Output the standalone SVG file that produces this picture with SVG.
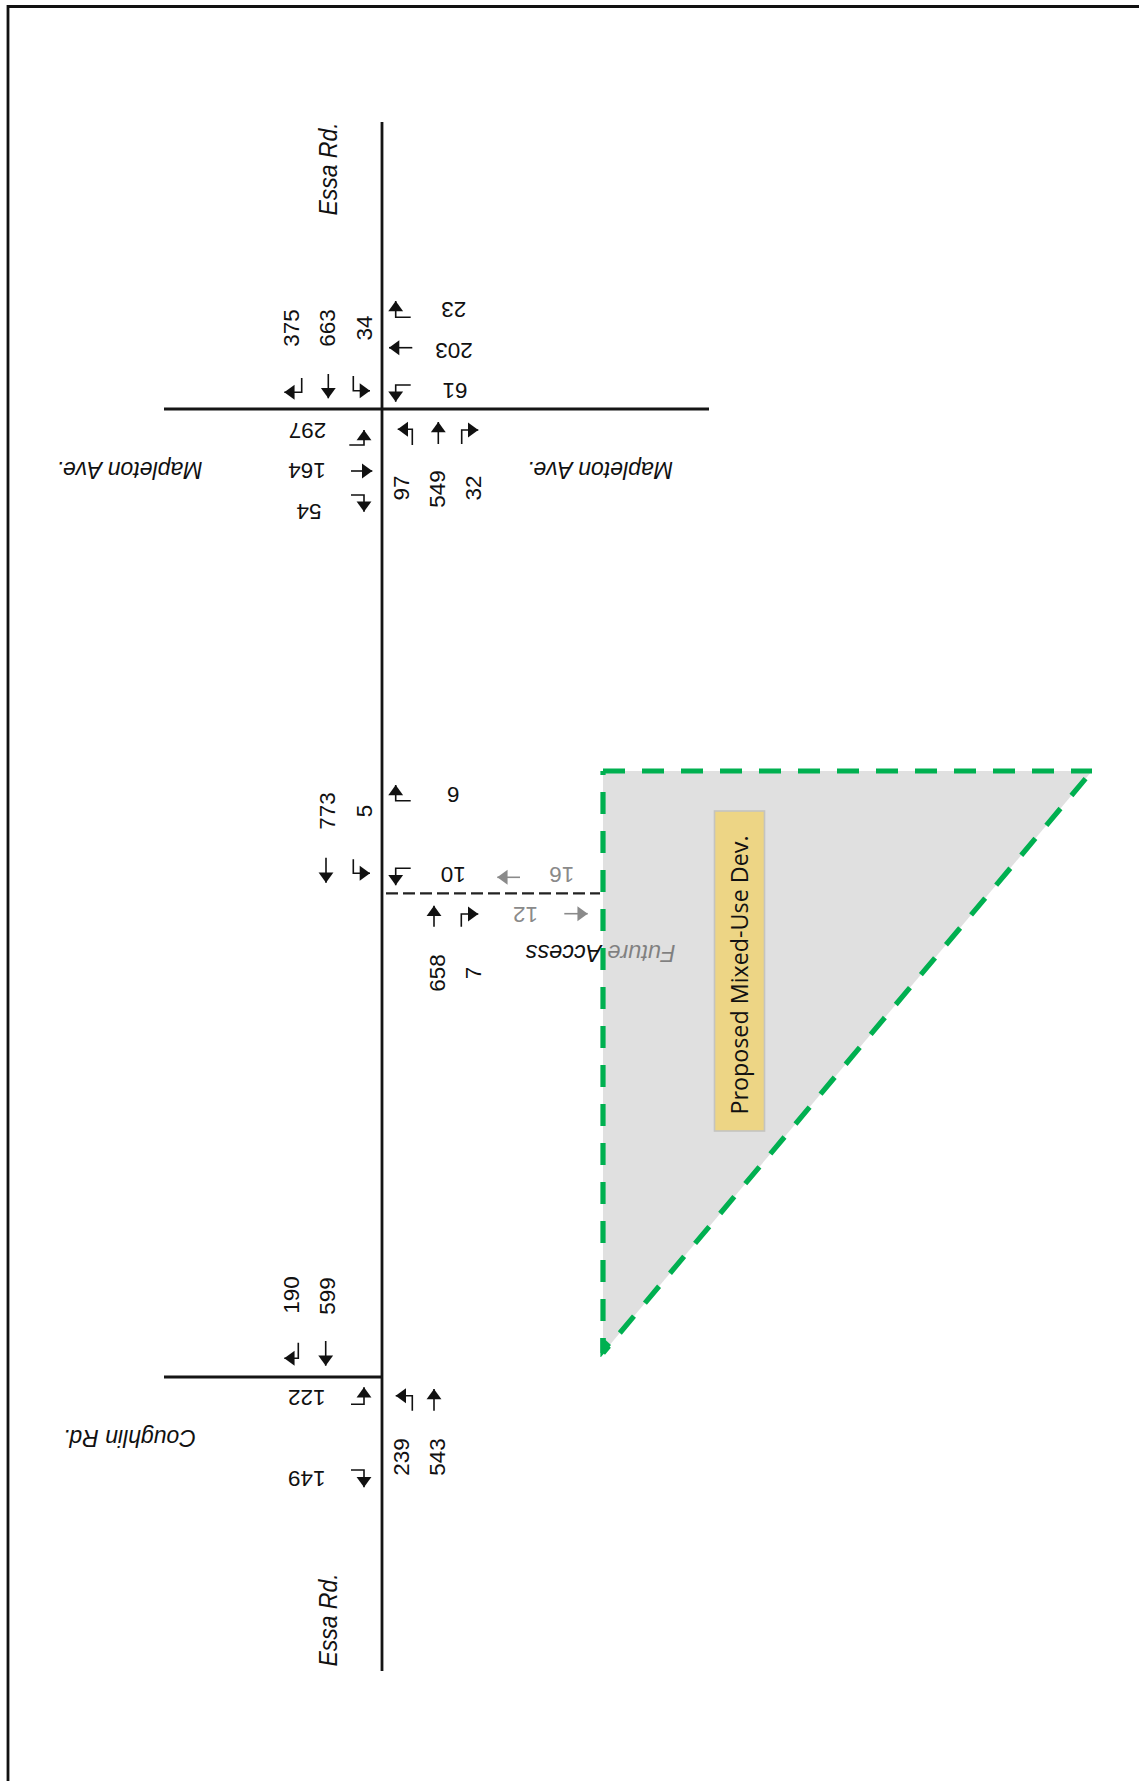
<svg xmlns="http://www.w3.org/2000/svg" width="1139" height="1781" viewBox="0 0 1139 1781">
<style>
text{font-family:"Liberation Sans",Arial,sans-serif;fill:#111;text-anchor:middle}
.n{font-size:22.5px}
.g{fill:#8a8a8a}
.l{font-size:23px;font-style:italic}
.f{font-size:23.6px;font-style:italic}
.e{font-size:25.8px;font-style:italic}
.t{font-family:"Open Sans","Noto Sans",sans-serif;font-size:23.3px;fill:#111}
.a{fill:none;stroke:#111;stroke-width:1.6;marker-end:url(#h)}
.ag{fill:none;stroke:#8a8a8a;stroke-width:1.6;marker-end:url(#hg)}
.r{fill:none;stroke:#151515;stroke-width:2.8}
.d{fill:none;stroke:#00b050;stroke-width:5.2;stroke-dasharray:22 17}
</style>
<defs>
<marker id="h" markerUnits="userSpaceOnUse" markerWidth="12" markerHeight="16" viewBox="0 0 9 14" refX="9" refY="7" orient="auto"><path d="M0,0.5 L9,7 L0,13.5 Z" fill="#111"/></marker>
<marker id="hg" markerUnits="userSpaceOnUse" markerWidth="12" markerHeight="16" viewBox="0 0 9 14" refX="9" refY="7" orient="auto"><path d="M0,0.5 L9,7 L0,13.5 Z" fill="#8a8a8a"/></marker>
</defs>
<rect width="1139" height="1781" fill="#fff"/>
<path id="frame" d="M8,1781 V6.5 H1139" fill="none" stroke="#111" stroke-width="2.8"/>

<g id="labels-roads">
<text class="e" transform="translate(337,169) rotate(-90) scale(0.89,1)">Essa Rd.</text>
<text class="e" transform="translate(337,1620) rotate(-90) scale(0.89,1)">Essa Rd.</text>
<text class="l" transform="translate(129.5,462) rotate(180)">Mapleton Ave.</text>
<text class="l" transform="translate(600,462) rotate(180)">Mapleton Ave.</text>
<text class="l" transform="translate(129.5,1430) rotate(180)">Coughlin Rd.</text>
<text class="f" transform="translate(600.5,945) rotate(180)">Future Access</text>
</g>

<g id="site">
<path d="M603,771 H1092 L603,1353 Z" fill="#cbcbcb" fill-opacity="0.6"/>
<path class="d" d="M603,771 H1092"/>
<path class="d" d="M1092,771 L603,1353" style="stroke-dashoffset:-10"/>
<path class="d" d="M603,1353 V771" style="stroke-dashoffset:7"/>
<path d="M600.4,1338 H605.6 V1340 L611,1345 L601,1357 L600.4,1357 Z" fill="#00b050"/>
</g>
<g id="site-label">
<rect x="714.5" y="811" width="50" height="320" fill="#edd585" stroke="#c4c4c0" stroke-width="1.6"/>
<text class="t" transform="translate(747.7,975) rotate(-90)">Proposed Mixed-Use Dev.</text>
</g>

<g id="connectors">
<path class="r" d="M382,122 V1671"/>
<path class="r" d="M164,409 H709"/>
<path class="r" d="M164,1377 H382"/>
<path d="M386,893.3 H600" fill="none" stroke="#222" stroke-width="2.2" stroke-dasharray="12 5"/>
</g>

<g id="intersection-mapleton">
<path class="a" d="M301.7,378 V392.3 H284.3"/>
<path class="a" d="M328.3,374 V398.3"/>
<path class="a" d="M353.3,376 V390.7 H370"/>
<path class="a" d="M410.7,385 H395.7 V401.7"/>
<path class="a" d="M412.3,347.7 H389"/>
<path class="a" d="M410.7,317.3 H395.7 V301"/>
<path class="a" d="M412.3,445 V429.3 H397.7"/>
<path class="a" d="M438.3,444 V422"/>
<path class="a" d="M461.7,444 V430 H478.3"/>
<path class="a" d="M349.3,445 H364 V430"/>
<path class="a" d="M351,471 H372.3"/>
<path class="a" d="M351,495 H364 V511.7"/>
<text class="n" transform="translate(298.5,328) rotate(-90)">375</text>
<text class="n" transform="translate(334.5,328) rotate(-90)">663</text>
<text class="n" transform="translate(372.2,328) rotate(-90)">34</text>
<text class="n" transform="translate(408.5,488) rotate(-90)">97</text>
<text class="n" transform="translate(445.2,489) rotate(-90)">549</text>
<text class="n" transform="translate(481.2,488) rotate(-90)">32</text>
<text class="n" transform="translate(453.7,301.7) rotate(180)">23</text>
<text class="n" transform="translate(454,342.7) rotate(180)">203</text>
<text class="n" transform="translate(455,383.3) rotate(180)">61</text>
<text class="n" transform="translate(307.5,422.7) rotate(180)">297</text>
<text class="n" transform="translate(307,463.3) rotate(180)">164</text>
<text class="n" transform="translate(309,504) rotate(180)">54</text>
</g>

<g id="intersection-access">
<path class="a" d="M326,857.7 V882.7"/>
<path class="a" d="M353.3,859.3 V873.3 H370"/>
<path class="a" d="M410.7,800.7 H395.7 V785"/>
<path class="a" d="M410.7,868.3 H395.7 V885.3"/>
<path class="ag" d="M520,877.3 H497.3"/>
<path class="ag" d="M564.3,913.7 H587.7"/>
<path class="a" d="M434,926.7 V905.7"/>
<path class="a" d="M461.3,926.7 V914 H478.3"/>
<text class="n" transform="translate(334.5,811) rotate(-90)">773</text>
<text class="n" transform="translate(372.2,811) rotate(-90)">5</text>
<text class="n" transform="translate(453.3,786.7) rotate(180)">6</text>
<text class="n" transform="translate(453.3,867.3) rotate(180)">10</text>
<text class="n g" transform="translate(561.7,867.3) rotate(180)">16</text>
<text class="n g" transform="translate(525.5,906.7) rotate(180)">12</text>
<text class="n" transform="translate(445.2,973) rotate(-90)">658</text>
<text class="n" transform="translate(480.5,973) rotate(-90)">7</text>
</g>

<g id="intersection-coughlin">
<path class="a" d="M298.3,1342.7 V1358.3 H284.3"/>
<path class="a" d="M325.7,1341 V1365.7"/>
<path class="a" d="M351,1404.3 H364 V1387.3"/>
<path class="a" d="M351,1470 H364 V1487.3"/>
<path class="a" d="M412.3,1410.7 V1395.7 H395.7"/>
<path class="a" d="M434,1410.7 V1389"/>
<text class="n" transform="translate(298.8,1295) rotate(-90)">190</text>
<text class="n" transform="translate(334.5,1296) rotate(-90)">599</text>
<text class="n" transform="translate(306.7,1390) rotate(180)">122</text>
<text class="n" transform="translate(306.7,1470.7) rotate(180)">149</text>
<text class="n" transform="translate(408.5,1457) rotate(-90)">239</text>
<text class="n" transform="translate(445.2,1457) rotate(-90)">543</text>
</g>
</svg>
